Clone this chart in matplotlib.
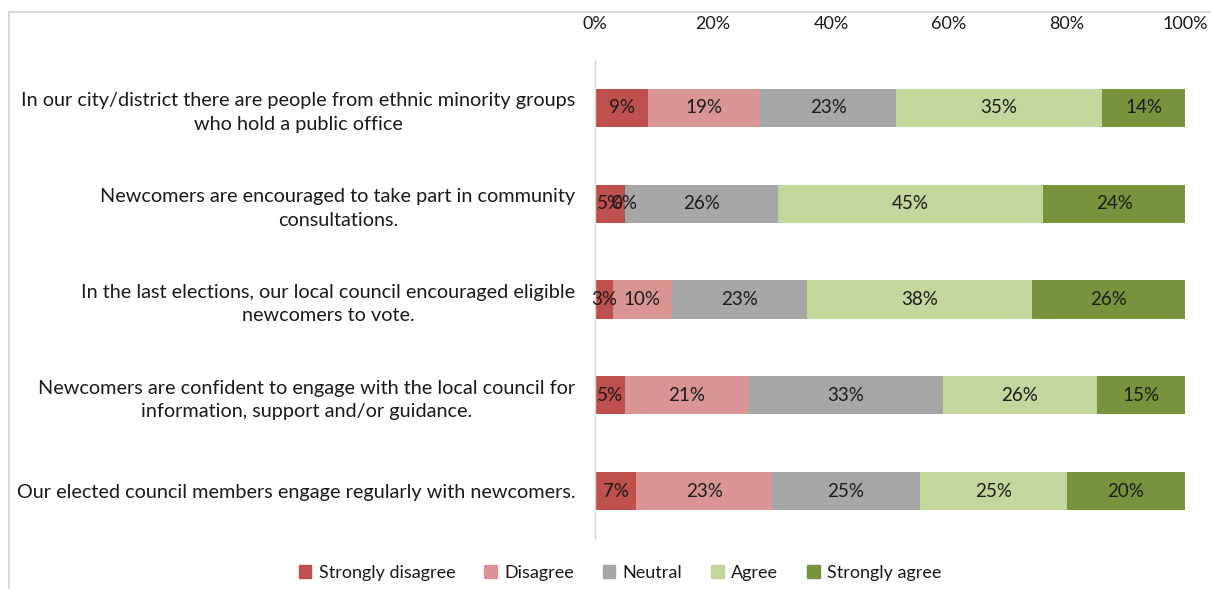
import matplotlib
matplotlib.use("Agg")
import matplotlib.pyplot as plt
from matplotlib.lines import Line2D

plt.rcParams['font.family'] = ['Lato', 'DejaVu Sans']

statements = [
    "In our city/district there are people from ethnic minority groups\nwho hold a public office",
    "Newcomers are encouraged to take part in community\nconsultations.",
    "In the last elections, our local council encouraged eligible\nnewcomers to vote.",
    "Newcomers are confident to engage with the local council for\ninformation, support and/or guidance.",
    "Our elected council members engage regularly with newcomers.",
]
responses = ["Strongly disagree", "Disagree", "Neutral", "Agree", "Strongly agree"]
strongly_disagree = [9, 5, 3, 5, 7]
disagree = [19, 0, 10, 21, 23]
neutral = [23, 26, 23, 33, 25]
agree = [35, 45, 38, 26, 25]
strongly_agree = [14, 24, 26, 15, 20]
series = [strongly_disagree, disagree, neutral, agree, strongly_agree]
colors = ["#C0504D", "#D99594", "#A6A6A6", "#C3D69B", "#77933C"]
tick_values = [0, 20, 40, 60, 80, 100]

fig = plt.figure(figsize=(12.11, 5.89), dpi=100)
ax = fig.add_axes([595 / 1211, 1 - 539 / 589, 590 / 1211, 479 / 589])

y = list(range(len(statements)))
left = [0.0] * len(statements)
for name, vals, col in zip(responses, series, colors):
    ax.barh(y, vals, left=left, height=0.4, color=col, label=name,
            edgecolor="none")
    for yi, (l, v) in enumerate(zip(left, vals)):
        ax.text(l + v / 2, yi, f"{v}%", ha="center", va="center",
                fontsize=13.5, color="#1a1a1a")
    left = [l + v for l, v in zip(left, vals)]

ax.set_xlim(0, 100)
ax.set_ylim(len(statements) - 0.5, -0.5)
ax.set_yticks(y)
ax.set_yticklabels(statements, fontsize=14.3, color="#1a1a1a", ha="right",
                   multialignment="center", linespacing=1.45)
ax.set_xticks(tick_values)
ax.set_xticklabels([f"{t}%" for t in tick_values], fontsize=13, color="#1a1a1a")
ax.xaxis.tick_top()
ax.tick_params(axis="x", length=0, pad=20)
ax.tick_params(axis="y", length=0, pad=14)
for side in ["top", "right", "bottom"]:
    ax.spines[side].set_visible(False)
ax.spines["left"].set_color("#D9D9D9")
ax.spines["left"].set_linewidth(1.0)

handles = [plt.Rectangle((0, 0), 1, 1, color=c) for c in colors]
fig.legend(handles, responses, loc="center", bbox_to_anchor=(620 / 1211, 1 - 573 / 589),
           ncol=5, frameon=False, fontsize=13, handlelength=0.7, handleheight=0.7,
           handletextpad=0.4, columnspacing=1.6, labelcolor="#1a1a1a")

# light frame along the top and left edges
fig.add_artist(Line2D([9 / 1211, 1], [1 - 12 / 589, 1 - 12 / 589],
                      transform=fig.transFigure, color="#D9D9D9", lw=1.5))
fig.add_artist(Line2D([9 / 1211, 9 / 1211], [0, 1 - 12 / 589],
                      transform=fig.transFigure, color="#D9D9D9", lw=1.5))

fig.savefig("out.png", dpi=100)
